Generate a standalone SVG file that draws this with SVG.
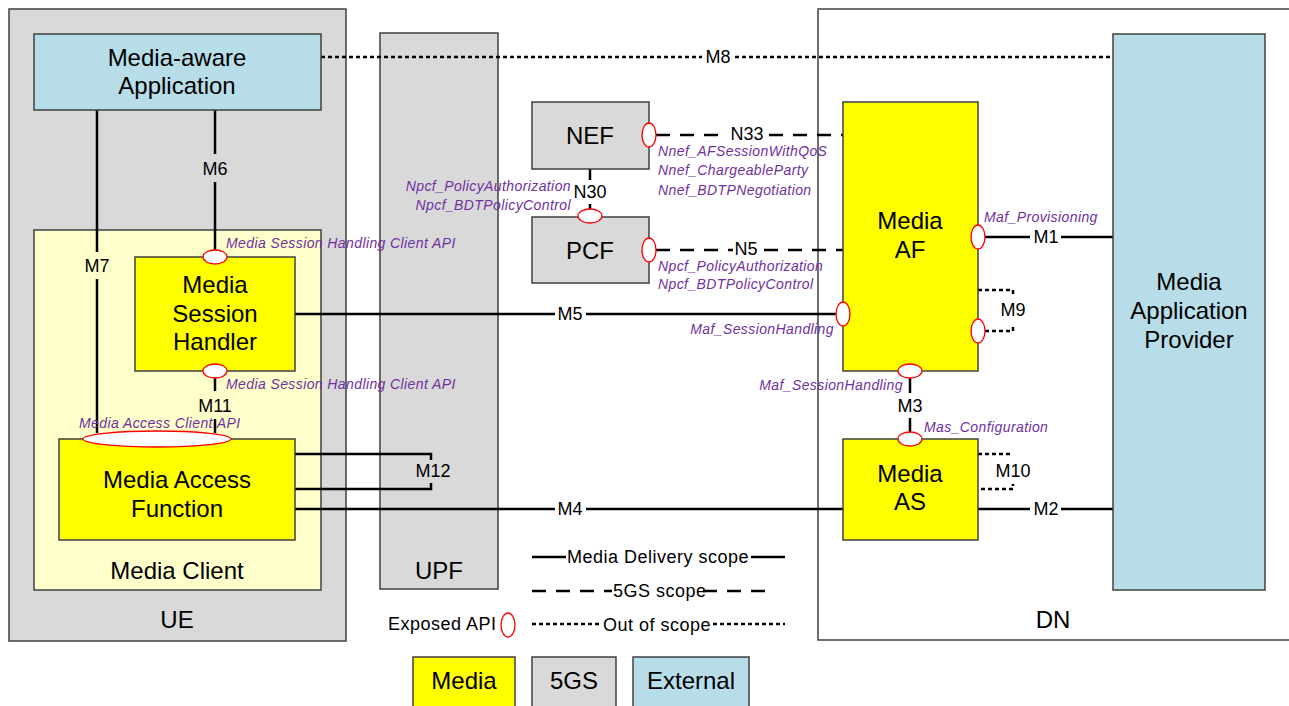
<svg xmlns="http://www.w3.org/2000/svg" width="1289" height="706" viewBox="0 0 1289 706">
<style>
.box{stroke:#404040;stroke-width:1.5}
.gray{fill:#d9d9d9}
.ext{fill:#b7dde8}
.media{fill:#ffff00}
.lt{fill:#ffffcc}
.t{font-family:"Liberation Sans",Arial,sans-serif;font-size:24px;fill:#000;text-anchor:middle}
.c{font-family:"Liberation Sans",Arial,sans-serif;font-size:18px;fill:#000;text-anchor:middle}
.lg{font-family:"Liberation Sans",Arial,sans-serif;font-size:18px;fill:#000;letter-spacing:0.5px}
.api{font-family:"Liberation Sans",Arial,sans-serif;font-size:14px;font-style:italic;fill:#7030a0;letter-spacing:0.4px}
.ln{stroke:#000;stroke-width:2.5;fill:none}
.dash{stroke:#000;stroke-width:2.5;fill:none;stroke-dasharray:14 10}
.dot{stroke:#000;stroke-width:2.5;fill:none;stroke-dasharray:4 3}
.ep{fill:#fff;stroke:#ff0000;stroke-width:1.3}
</style>
<rect width="1289" height="706" fill="#fff"/>

<g id="UE">
<rect class="box gray" x="9" y="9" width="337" height="632"/>
<text class="t" x="177" y="628">UE</text>
</g>
<g id="DN">
<rect class="box" fill="#fff" x="818" y="9" width="480" height="631"/>
<text class="t" x="1053" y="628">DN</text>
</g>
<g id="UPF">
<rect class="box gray" x="380" y="33" width="118" height="556"/>
<text class="t" x="439" y="579">UPF</text>
</g>
<g id="MediaClient">
<rect class="box lt" x="34" y="230" width="287" height="360"/>
<text class="t" x="177" y="579">Media Client</text>
</g>

<g id="connectors">
<!-- M8 -->
<line class="dot" x1="321" y1="57" x2="702" y2="57"/>
<line class="dot" x1="735" y1="57" x2="1113" y2="57"/>
<text class="c" x="718" y="63">M8</text>
<!-- M7 -->
<line class="ln" x1="97" y1="110" x2="97" y2="252"/>
<line class="ln" x1="97" y1="279" x2="97" y2="433"/>
<text class="c" x="97" y="272">M7</text>
<!-- M6 -->
<line class="ln" x1="215" y1="110" x2="215" y2="154"/>
<line class="ln" x1="215" y1="182" x2="215" y2="250"/>
<text class="c" x="215" y="175">M6</text>
<!-- M11 -->
<line class="ln" x1="215" y1="378" x2="215" y2="391"/>
<line class="ln" x1="215" y1="419" x2="215" y2="433"/>
<text class="c" x="215" y="412">M11</text>
<!-- M12 -->
<polyline class="ln" points="295,454 431,454 431,460"/>
<polyline class="ln" points="295,489 431,489 431,483"/>
<text class="c" x="433" y="477">M12</text>
<!-- M4 -->
<line class="ln" x1="295" y1="509" x2="555" y2="509"/>
<line class="ln" x1="586" y1="509" x2="843" y2="509"/>
<text class="c" x="570" y="515">M4</text>
<!-- M5 -->
<line class="ln" x1="295" y1="314" x2="555" y2="314"/>
<line class="ln" x1="586" y1="314" x2="836" y2="314"/>
<text class="c" x="570" y="320">M5</text>
<!-- N30 -->
<line class="ln" x1="590" y1="169" x2="590" y2="180"/>
<line class="ln" x1="590" y1="204" x2="590" y2="209"/>
<text class="c" x="590" y="198">N30</text>
<!-- N33 -->
<line class="dash" x1="656" y1="135" x2="727" y2="135"/>
<line class="dash" x1="767" y1="135" x2="843" y2="135" stroke-dashoffset="-2"/>
<text class="c" x="747" y="140">N33</text>
<!-- N5 -->
<line class="dash" x1="656" y1="250" x2="733" y2="250"/>
<line class="dash" x1="760" y1="250" x2="843" y2="250" stroke-dashoffset="-4"/>
<text class="c" x="746" y="255">N5</text>
<!-- M1 -->
<line class="ln" x1="985" y1="237" x2="1030" y2="237"/>
<line class="ln" x1="1061" y1="237" x2="1113" y2="237"/>
<text class="c" x="1046" y="243">M1</text>
<!-- M9 -->
<polyline class="dot" points="978,290 1013,290 1013,297"/>
<polyline class="dot" points="985,331 1013,331 1013,324"/>
<text class="c" x="1013" y="316">M9</text>
<!-- M3 -->
<line class="ln" x1="910" y1="378" x2="910" y2="393"/>
<line class="ln" x1="910" y1="418" x2="910" y2="432"/>
<text class="c" x="910" y="412">M3</text>
<!-- M10 -->
<polyline class="dot" points="978,454 1013,454"/>
<polyline class="dot" points="981,489 1013,489 1013,484"/>
<text class="c" x="1013" y="477">M10</text>
<!-- M2 -->
<line class="ln" x1="978" y1="509" x2="1030" y2="509"/>
<line class="ln" x1="1061" y1="509" x2="1113" y2="509"/>
<text class="c" x="1046" y="515">M2</text>
</g>

<g id="MediaAwareApplication">
<rect class="box ext" x="34" y="34" width="287" height="76"/>
<text class="t" x="177" y="66">Media-aware</text>
<text class="t" x="177" y="94">Application</text>
</g>

<g id="MediaSessionHandler">
<rect class="box media" x="135" y="257" width="160" height="114"/>
<text class="t" x="215" y="293">Media</text>
<text class="t" x="215" y="322">Session</text>
<text class="t" x="215" y="350">Handler</text>
<ellipse class="ep" cx="215" cy="257" rx="12" ry="7"/>
<ellipse class="ep" cx="215" cy="371" rx="12" ry="7"/>
<text class="api" x="226" y="248">Media Session Handling Client API</text>
<text class="api" x="226" y="389">Media Session Handling Client API</text>
</g>

<g id="MediaAccessFunction">
<rect class="box media" x="59" y="439" width="236" height="101"/>
<text class="t" x="177" y="488">Media Access</text>
<text class="t" x="177" y="517">Function</text>
<ellipse class="ep" cx="157" cy="439" rx="74" ry="8"/>
<text class="api" x="79" y="428">Media Access Client API</text>
</g>

<g id="NEF">
<rect class="box gray" x="532" y="102" width="117" height="67"/>
<text class="t" x="590" y="144">NEF</text>
<ellipse class="ep" cx="649" cy="135" rx="7" ry="12"/>
<text class="api" x="658" y="156">Nnef_AFSessionWithQoS</text>
<text class="api" x="658" y="175">Nnef_ChargeableParty</text>
<text class="api" x="658" y="195">Nnef_BDTPNegotiation</text>
</g>

<g id="PCF">
<rect class="box gray" x="532" y="217" width="117" height="66"/>
<text class="t" x="590" y="259">PCF</text>
<ellipse class="ep" cx="590" cy="216" rx="12" ry="7"/>
<ellipse class="ep" cx="649" cy="250" rx="7" ry="12"/>
<text class="api" x="571" y="191" text-anchor="end">Npcf_PolicyAuthorization</text>
<text class="api" x="571" y="210" text-anchor="end">Npcf_BDTPolicyControl</text>
<text class="api" x="658" y="271">Npcf_PolicyAuthorization</text>
<text class="api" x="658" y="289">Npcf_BDTPolicyControl</text>
</g>

<g id="MediaAF">
<rect class="box media" x="843" y="102" width="135" height="269"/>
<text class="t" x="910" y="229">Media</text>
<text class="t" x="910" y="258">AF</text>
<ellipse class="ep" cx="843" cy="314" rx="7" ry="12"/>
<ellipse class="ep" cx="978" cy="237" rx="7" ry="12"/>
<ellipse class="ep" cx="978" cy="331" rx="7" ry="12"/>
<ellipse class="ep" cx="910" cy="371" rx="12" ry="7"/>
<text class="api" x="834" y="334" text-anchor="end">Maf_SessionHandling</text>
<text class="api" x="984" y="222">Maf_Provisioning</text>
<text class="api" x="903" y="390" text-anchor="end">Maf_SessionHandling</text>
</g>

<g id="MediaAS">
<rect class="box media" x="843" y="439" width="135" height="101"/>
<text class="t" x="910" y="482">Media</text>
<text class="t" x="910" y="510">AS</text>
<ellipse class="ep" cx="910" cy="439" rx="12" ry="7"/>
<text class="api" x="924" y="432">Mas_Configuration</text>
</g>

<g id="MediaApplicationProvider">
<rect class="box ext" x="1113" y="34" width="152" height="556"/>
<text class="t" x="1189" y="290">Media</text>
<text class="t" x="1189" y="319">Application</text>
<text class="t" x="1189" y="348">Provider</text>
</g>

<g id="legend">
<line class="ln" x1="532" y1="557" x2="566" y2="557"/>
<line class="ln" x1="751" y1="557" x2="785" y2="557"/>
<text class="lg" x="567" y="563">Media Delivery scope</text>
<line class="dash" x1="532" y1="591" x2="612" y2="591"/>
<line class="dash" x1="703" y1="591" x2="775" y2="591" stroke-dasharray="6 12 14 12 14 10"/>
<text class="lg" x="613" y="597">5GS scope</text>
<line class="dot" x1="532" y1="624" x2="602" y2="624"/>
<line class="dot" x1="713" y1="624" x2="785" y2="624"/>
<text class="lg" x="603" y="631">Out of scope</text>
<text class="lg" x="388" y="630">Exposed API</text>
<ellipse class="ep" cx="508" cy="625" rx="7" ry="12"/>
<rect class="box media" x="413" y="657" width="102" height="60"/>
<text class="t" x="464" y="689">Media</text>
<rect class="box gray" x="532" y="657" width="84" height="60"/>
<text class="t" x="574" y="689">5GS</text>
<rect class="box ext" x="633" y="657" width="116" height="60"/>
<text class="t" x="691" y="689">External</text>
</g>
</svg>
